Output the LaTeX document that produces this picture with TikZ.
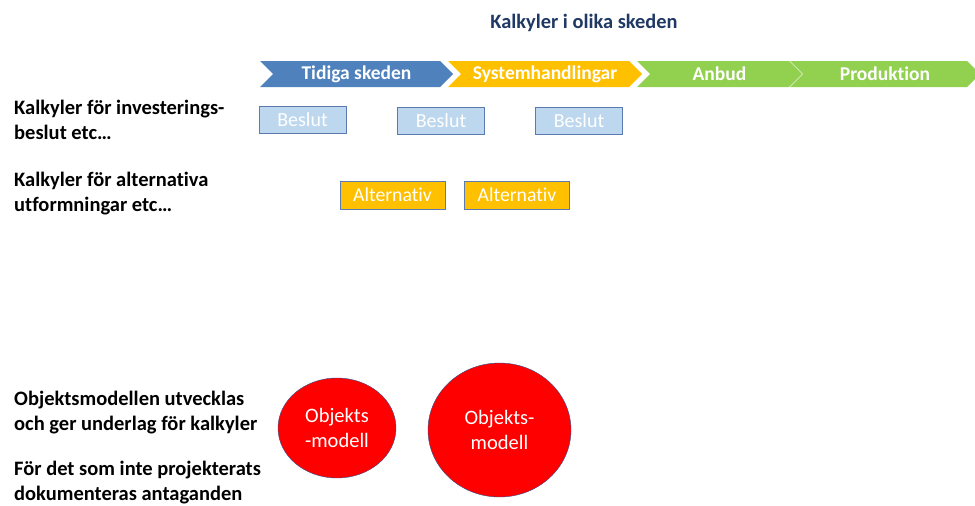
\documentclass[tikz,border=0pt]{standalone}
\usepackage{fontspec}
\setmainfont{Carlito}[Ligatures=NoCommon]
\usepackage{xcolor}
\usetikzlibrary{positioning}
\usetikzlibrary{shapes.geometric, shapes.symbols}
\definecolor{navy}{HTML}{1F3864}
\definecolor{stageblue}{HTML}{4F81BD}
\definecolor{stageyellow}{HTML}{FFC000}
\definecolor{stagegreen}{HTML}{92D050}
\definecolor{beslutfill}{HTML}{BDD7EE}
\definecolor{boxedge}{HTML}{5A7AB0}
\definecolor{circedge}{HTML}{2F528F}
\tikzstyle{stage} = [signal, signal from=west, signal to=east, signal pointer angle=90, minimum height=26pt, inner sep=0pt, text=white, font=\fontsize{19.5}{22}\selectfont\bfseries]
\tikzstyle{beslut} = [rectangle, minimum width=87pt, minimum height=27pt, inner sep=0pt, draw=boxedge, fill=beslutfill, text=white, font=\fontsize{20}{22}\selectfont]
\tikzstyle{altbox} = [rectangle, minimum width=105pt, minimum height=28pt, inner sep=0pt, draw=boxedge, fill=stageyellow, text=white, font=\fontsize{19.7}{22}\selectfont]
\tikzstyle{modell} = [ellipse, inner sep=0pt, draw=circedge, fill=red, text=white, align=center, font=\fontsize{20.5}{25}\selectfont]
\tikzstyle{label} = [anchor=west, align=left, inner sep=0pt, font=\fontsize{20.5}{25}\selectfont\bfseries]
\begin{document}
\begin{tikzpicture}[x=1pt, y=-1pt]
\useasboundingbox (0,0) rectangle (975,506);
\node (T) [text=navy, font=\fontsize{20.4}{22}\selectfont\bfseries] at (584,23) {Kalkyler i olika skeden};
% stages
\node (S1) [stage, fill=stageblue, minimum width=193pt] at (356.5,74) {Tidiga skeden};
\node (S2) [stage, fill=stageyellow, minimum width=194pt] at (545,74) {Systemhandlingar};
\node (S3) [stage, fill=stagegreen, minimum width=165pt] at (719.5,74) {Anbud};
\node (S4) [stage, fill=stagegreen, minimum width=190pt] at (885,74) {Produktion};
% left texts
\node (L1) [label] at (14,120) {Kalkyler för investerings-\\beslut etc…};
\node (L2) [label] at (14,193.5) {Kalkyler för alternativa\\utformningar etc…};
\node (L3) [label] at (14,412.5) {Objektsmodellen utvecklas\\och ger underlag för kalkyler};
\node (L4) [label] at (14,483) {För det som inte projekterats\\dokumenteras antaganden};
% beslut
\node (B1) [beslut] at (302.5,119.5) {Beslut};
\node (B2) [beslut, right of=B1, node distance=138.5pt, yshift=-1pt] {Beslut};
\node (B3) [beslut, right of=B2, node distance=138pt] {Beslut};
% alternativ
\node (A1) [altbox] at (392.5,195) {Alternativ};
\node (A2) [altbox, right of=A1, node distance=124.5pt] {Alternativ};
% objektsmodell
\node (M1) [modell, minimum width=118pt, minimum height=100pt] at (337,428) {Objekts\\-modell};
\node (M2) [modell, minimum width=143pt, minimum height=134pt] at (499.5,430) {Objekts-\\modell};
\end{tikzpicture}
\end{document}
